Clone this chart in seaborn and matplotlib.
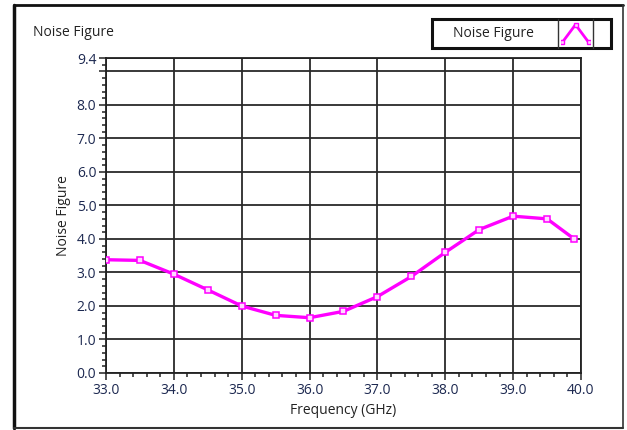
import numpy as np
import pandas as pd
import matplotlib
matplotlib.use("Agg")
import matplotlib.pyplot as plt
import seaborn as sns
from matplotlib.ticker import AutoMinorLocator, FixedLocator
from matplotlib.lines import Line2D
from matplotlib.patches import Rectangle

# data
freq_ghz = [33.0, 33.5, 34.0, 34.5, 35.0, 35.5, 36.0, 36.5, 37.0, 37.5, 38.0, 38.5, 39.0, 39.5, 39.9]
noise_fig = [3.38, 3.36, 2.95, 2.48, 2.00, 1.72, 1.65, 1.84, 2.28, 2.88, 3.60, 4.28, 4.68, 4.60, 4.00]

x_ticks = [33.0, 34.0, 35.0, 36.0, 37.0, 38.0, 39.0, 40.0]
y_ticks = [0.0, 1.0, 2.0, 3.0, 4.0, 5.0, 6.0, 7.0, 8.0, 9.0, 9.4]
y_labels = ['0.0', '1.0', '2.0', '3.0', '4.0', '5.0', '6.0', '7.0', '8.0', '', '9.4']

df = pd.DataFrame({'Frequency (GHz)': freq_ghz, 'Noise Figure': noise_fig})

sns.set_style('white')
plt.rcParams['font.family'] = ['Open Sans', 'DejaVu Sans']

txt_col = '#1c2850'
mag = '#ff00ff'

fig = plt.figure(figsize=(6.27, 4.30), dpi=100)
ax = fig.add_axes([106/627, 57/430, 475/627, 315/430])

sns.lineplot(data=df, x='Frequency (GHz)', y='Noise Figure', ax=ax, color=mag,
             linewidth=2.4, marker='s', markersize=5, markerfacecolor='#ffd8ff',
             markeredgecolor=mag, markeredgewidth=1.1, zorder=5)

ax.set_xlim(33.0, 40.0)
ax.set_ylim(0.0, 9.4)
ax.xaxis.set_major_locator(FixedLocator(x_ticks))
ax.set_xticklabels([f'{v:.1f}' for v in x_ticks])
ax.yaxis.set_major_locator(FixedLocator(y_ticks))
ax.set_yticklabels(y_labels)
ax.xaxis.set_minor_locator(AutoMinorLocator(5))
ax.yaxis.set_minor_locator(AutoMinorLocator(5))

ax.grid(True, which='major', color='#2a2a2a', linewidth=1.3)
ax.tick_params(which='major', direction='out', length=5, width=1.2, color='#333333',
               labelsize=10, labelcolor=txt_col, pad=2, left=True, bottom=True)
ax.tick_params(which='minor', direction='out', length=3, width=1.2, color='#333333',
               left=True, bottom=True)
for s in ax.spines.values():
    s.set_color('#222222')
    s.set_linewidth(1.3)

ax.set_xlabel('Frequency (GHz)', fontsize=10, color='#222222', labelpad=4)
ax.set_ylabel('Noise Figure', fontsize=10, color='#222222', labelpad=4)

# panel title
fig.text(33/627, 1 - 32/430, 'Noise Figure', fontsize=10, color='#222222', va='center', ha='left')

# outer panel frame
fig.add_artist(Line2D([14/627, 14/627], [2/430, 1 - 5/430], transform=fig.transFigure, color='#111111', lw=2.5))
fig.add_artist(Line2D([14/627, 623/627], [1 - 5/430, 1 - 5/430], transform=fig.transFigure, color='#111111', lw=2))
fig.add_artist(Line2D([623/627, 623/627], [2/430, 1 - 5/430], transform=fig.transFigure, color='#333333', lw=1.2))
fig.add_artist(Line2D([14/627, 623/627], [2/430, 2/430], transform=fig.transFigure, color='#333333', lw=1.5))

# legend box drawn as a plot-legend panel
lx0, lx1 = 432/627, 611/627
ly0, ly1 = 1 - 48/430, 1 - 19/430
fig.add_artist(Rectangle((lx0, ly0), lx1 - lx0, ly1 - ly0, transform=fig.transFigure,
                         facecolor='white', edgecolor='#111111', lw=2.2))
fig.add_artist(Line2D([558/627, 558/627], [ly0, ly1], transform=fig.transFigure, color='#333333', lw=1))
fig.add_artist(Line2D([593/627, 593/627], [ly0, ly1], transform=fig.transFigure, color='#333333', lw=1))
fig.text(493/627, (ly0 + ly1) / 2, 'Noise Figure', fontsize=10, color='#222222', ha='center', va='center')

icon_x = [0, 1, 2]
icon_y = [0, 1, 0]
iax = fig.add_axes([561/627, 1 - 45/430, 29/627, 23/430])
iax.set_zorder(10)
iax.patch.set_alpha(0)
iax.plot(icon_x, icon_y, color=mag, lw=2, marker='s', markersize=3, markerfacecolor='#ffd8ff')
iax.set_xlim(-0.1, 2.1)
iax.set_ylim(-0.15, 1.15)
iax.axis('off')

fig.savefig('out.png', dpi=100)
